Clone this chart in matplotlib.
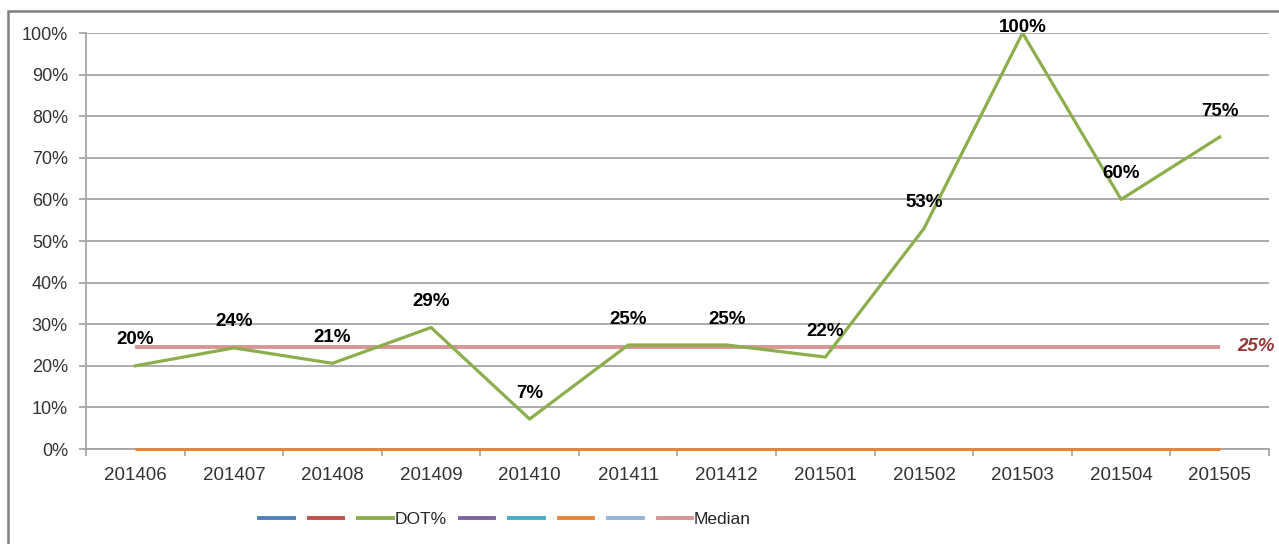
import matplotlib
matplotlib.use("Agg")
import matplotlib.pyplot as plt
from matplotlib.lines import Line2D
from matplotlib.patches import Rectangle
import numpy as np

plt.rcParams['font.family'] = ['Liberation Sans', 'DejaVu Sans']

# data
months = ['201406', '201407', '201408', '201409', '201410', '201411',
          '201412', '201501', '201502', '201503', '201504', '201505']
dot_pct = [20, 24.3, 20.6, 29.2, 7.2, 25, 25, 22.1, 53, 100, 60, 75]
dot_lbl = ['20%', '24%', '21%', '29%', '7%', '25%', '25%', '22%', '53%', '100%', '60%', '75%']
orange_vals = [0] * 12
median_vals = [24.6] * 12
median_lbl = '25%'

c_blue = '#4F81BD'
c_red = '#C0504D'
c_green = '#8CAE4D'
c_purple = '#8064A2'
c_aqua = '#4BACC6'
c_orange = '#E8853D'
c_lblue = '#95B3D7'
c_pink = '#D99594'

W, H = 1279, 544
fig = plt.figure(figsize=(W / 100, H / 100), dpi=100)
ax = fig.add_axes([86 / W, 1 - 449 / H, (1269 - 86) / W, (449 - 33) / H])

x = np.arange(len(months))
y_dot = np.array(dot_pct) / 100
y_med = np.array(median_vals) / 100
y_or = np.array(orange_vals) / 100

ax.plot(x, y_or, color=c_orange, lw=2.2, zorder=3, solid_capstyle='butt', clip_on=False)
ax.plot(x, y_med, color=c_pink, lw=2.8, zorder=4, solid_capstyle='butt')
ax.plot(x, y_dot, color=c_green, lw=2.3, zorder=5)

# data labels above points (kept inside the top)
for xi, yi, t in zip(x, y_dot, dot_lbl):
    py = 449 - yi * 416
    ly = max(py - 26, 27)
    ax.annotate(t, (xi, yi), xytext=(0, (py - ly) * 0.72), textcoords='offset points',
                ha='center', va='center', fontsize=13.5, fontweight='bold', color='black',
                zorder=6, annotation_clip=False)

ax.annotate(median_lbl, (x[-1], y_med[-1]), xytext=(26, 0), textcoords='offset points',
            ha='center', va='center', fontsize=13.5, fontweight='bold', fontstyle='italic',
            color='#953735', annotation_clip=False)

ax.set_xlim(-0.5, len(months) - 0.5)
ax.set_ylim(0, 1)
ax.set_yticks(np.arange(0, 1.01, 0.1))
ax.set_yticklabels([f'{int(round(v * 100))}%' for v in np.arange(0, 1.01, 0.1)])
ax.set_xticks(x)
ax.set_xticklabels(months)
ax.set_xticks(np.arange(-0.5, len(months), 1), minor=True)
ax.tick_params(axis='x', which='major', length=0, pad=13, labelsize=13.5, colors='#333333')
ax.tick_params(axis='x', which='minor', length=5, width=1.2, color='#A0A0A0')
ax.tick_params(axis='y', length=5, width=1.2, color='#A0A0A0', pad=8, labelsize=13,
               labelcolor='#333333')
ax.grid(axis='y', color='#A6A6A6', lw=1.3)
ax.set_axisbelow(True)
for s in ['top', 'right']:
    ax.spines[s].set_visible(False)
for s in ['left', 'bottom']:
    ax.spines[s].set_color('#A0A0A0')
    ax.spines[s].set_linewidth(1.2)

handles = [Line2D([], [], color=c, lw=2.8) for c in
           [c_blue, c_red, c_green, c_purple, c_aqua, c_orange, c_lblue, c_pink]]
labels = ['', '', 'DOT%', '', '', '', '', 'Median']
fig.legend(handles, labels, ncol=8, loc='center', bbox_to_anchor=(505 / W, 1 - 519 / H),
           frameon=False, fontsize=12.5, handlelength=2.0, handletextpad=0.1,
           columnspacing=0.75, labelcolor='#262626')

# chart border (only left and top visible in the crop)
fig.patches.append(Rectangle((8 / W, -0.1), 1.1, 1 - 11 / H + 0.1, transform=fig.transFigure,
                             fill=False, edgecolor='#808080', lw=1.8))

fig.savefig('out.png', dpi=100)
